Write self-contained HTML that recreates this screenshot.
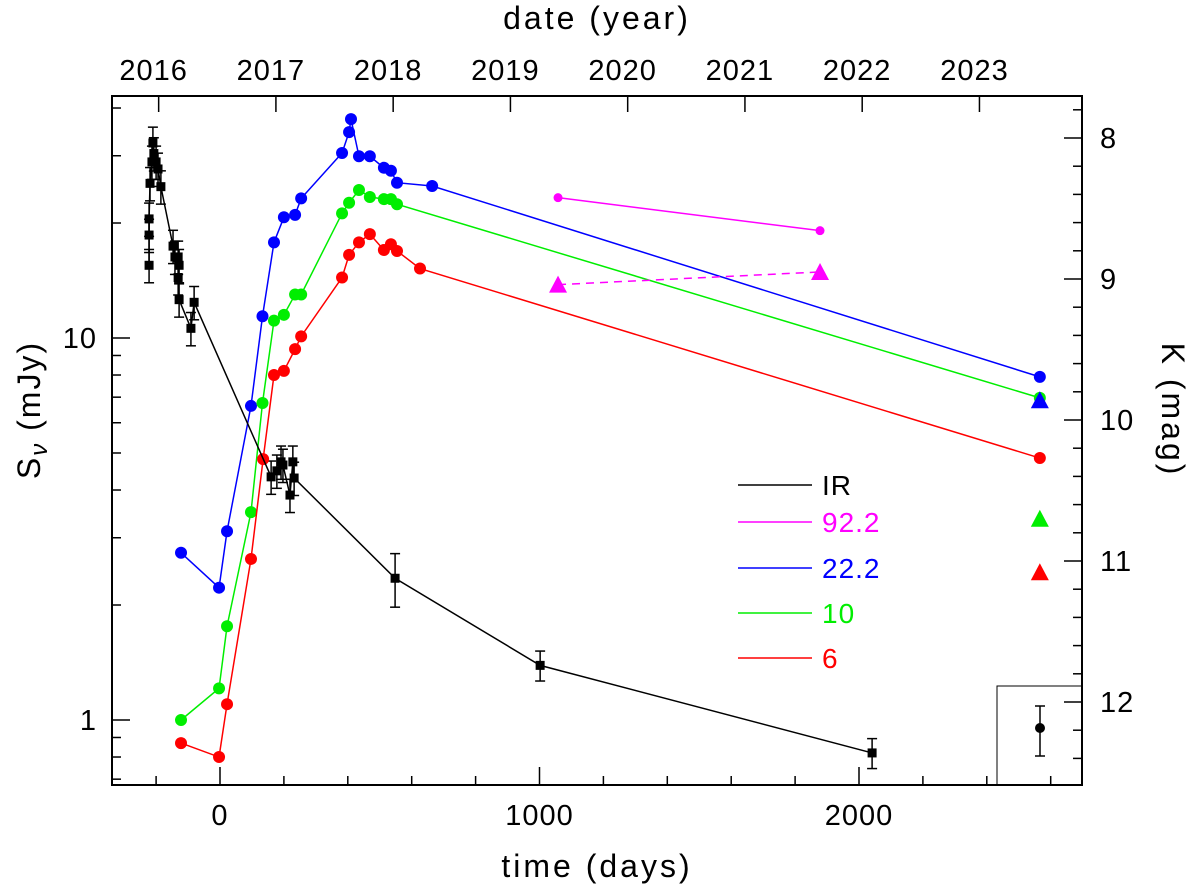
<!DOCTYPE html>
<html><head><meta charset="utf-8"><style>
body{margin:0;background:#fff}
svg{display:block;font-family:"Liberation Sans",sans-serif}
</style></head><body>
<svg id="c" width="1200" height="888"></svg>
<script>
const irDays=[-222,-222,-222,-219,-213,-210,-207,-200,-194,-185,-147,-141,-131,-128,-131,-128,-91,-81,160,178,191,197,219,228,232,548,1002,2041];
const irFlux=[15.5,18.6,20.5,25.4,28.9,32.4,30.4,28.9,27.7,24.9,17.4,16.3,16.3,15.5,14.4,12.6,10.6,12.4,4.33,4.49,4.74,4.65,3.88,4.74,4.30,2.35,1.39,0.82];
const irErr=[0.1,0.1,0.1,0.1,0.1,0.1,0.1,0.1,0.1,0.1,0.1,0.1,0.1,0.1,0.1,0.1,0.1,0.1,0.1,0.1,0.1,0.1,0.1,0.1,0.1,0.16,0.09,0.09];
const radDays=[-122,-3,22,97,133,169,200,235,254,382,404,410,435,469,513,535,554,664,2566];
const blueFlux=[2.74,2.22,3.12,6.64,11.4,17.8,20.7,21.0,23.2,30.5,34.6,37.4,29.9,29.9,27.9,27.4,25.5,25.0,7.91];
const greenDays=[-122,-3,22,97,133,169,200,235,254,382,404,435,469,513,535,554,2566];
const greenFlux=[1.00,1.21,1.76,3.50,6.76,11.1,11.5,13.0,13.0,21.2,22.6,24.4,23.4,23.1,23.1,22.4,6.97];
const redDays=[-122,-3,22,97,135,169,200,235,254,382,404,435,469,513,535,554,626,2566];
const redFlux=[0.87,0.80,1.10,2.64,4.82,8.0,8.2,9.35,10.1,14.4,16.5,17.8,18.7,17.0,17.6,16.9,15.2,4.85];
const magDays=[1058,1878];
const magFlux=[23.3,19.1];
const magTriMag=[9.04,8.95];
const triDays=[2566,2566,2566];
const triMag=[9.86,10.70,11.08];
const triColors=['#0000ff','#00ee00','#ff0000'];
const xTicks=[0,1000,2000];
const yTicks=[1,10];
const kTicks=[8,9,10,11,12];
const years=[2016,2017,2018,2019,2020,2021,2022,2023];

const L=112,R=1082,T=96,B=785;
const X=d=>220+d*0.3195;
const Y=v=>720-Math.log10(v)*382;
const K=m=>138+(m-8)*141;
const yearDay=y=>-192+(y-2016)*367;
const svg=document.getElementById('c');
const NS='http://www.w3.org/2000/svg';
function el(tag,attrs,parent){const e=document.createElementNS(NS,tag);for(const k in attrs)e.setAttribute(k,attrs[k]);(parent||svg).appendChild(e);return e;}
function txt(s,x,y,size,attrs){const t=el('text',Object.assign({x:x,y:y,'font-size':size,'text-anchor':'middle',fill:'#000','letter-spacing':1},attrs||{}));t.textContent=s;return t;}

const fr=el('rect',{x:L,y:T,width:R-L,height:B-T,fill:'none',stroke:'#000','stroke-width':2});


for(let d=-200;d<=2600;d+=200){const x=X(d);const maj=d%1000===0;el('line',{x1:x,x2:x,y1:B,y2:B-(maj?18:9),stroke:'#000','stroke-width':1.5});}
xTicks.forEach(d=>{const t=txt(String(d),X(d),825,29);});
years.forEach(y=>{const x=X(yearDay(y));el('line',{x1:x,x2:x,y1:T,y2:T+16,stroke:'#000','stroke-width':1.5});
 const t=txt(String(y),x-5,80,29);});
[0.7,0.8,0.9,1,2,3,4,5,6,7,8,9,10,20,30,40].forEach(v=>{const y=Y(v);const maj=(v===1||v===10);el('line',{x1:L,x2:L+(maj?18:9),y1:y,y2:y,stroke:'#000','stroke-width':1.5});});
yTicks.forEach(v=>{const t=txt(String(v),97,Y(v)+10,29,{'text-anchor':'end'});});
for(let m=7.8;m<=12.61;m+=0.2){const y=K(m);if(y<T||y>B)continue;const maj=Math.abs(m-Math.round(m))<0.01;el('line',{x1:R,x2:R-(maj?18:9),y1:y,y2:y,stroke:'#000','stroke-width':1.5});}
kTicks.forEach(m=>{const t=txt(String(m),1100,K(m)+10,29,{'text-anchor':'start'});});

let t=txt('time (days)',597,877,32,{'letter-spacing':3});
t=txt('date (year)',597,29,32,{'letter-spacing':3});
t=el('text',{x:0,y:0,'font-size':32,'text-anchor':'middle','letter-spacing':2,transform:'translate(40,410) rotate(-90)'});
t.innerHTML='S<tspan font-size="24" dy="7" font-style="italic">ν</tspan><tspan dy="-7"> (mJy)</tspan>';

t=el('text',{x:0,y:0,'font-size':32,'text-anchor':'middle','letter-spacing':3,transform:'translate(1162,410) rotate(90)'});t.textContent='K (mag)';


function series(days,vals,color,name,marker){
 const g=el('g',{});
 el('polyline',{points:days.map((d,i)=>X(d)+','+Y(vals[i])).join(' '),fill:'none',stroke:color,'stroke-width':1.5},g);
 days.forEach((d,i)=>{let m;
  if(marker==='sq'){m=el('rect',{x:X(d)-4.5,y:Y(vals[i])-4.5,width:9,height:9,fill:color},g);}
  else m=el('circle',{cx:X(d),cy:Y(vals[i]),r:marker==='small'?4.5:6,fill:color},g);
  });
 return g;}

const ge=el('g',{});
irDays.forEach((d,i)=>{const x=X(d),y1=Y(irFlux[i]*(1+irErr[i])),y2=Y(irFlux[i]*(1-irErr[i]));
 el('line',{x1:x,x2:x,y1:y1,y2:y2,stroke:'#000','stroke-width':1.5},ge);
 el('line',{x1:x-5,x2:x+5,y1:y1,y2:y1,stroke:'#000','stroke-width':1.5},ge);
 el('line',{x1:x-5,x2:x+5,y1:y2,y2:y2,stroke:'#000','stroke-width':1.5},ge);});

series(radDays,blueFlux,'#0000ff','series-22-2','c');
series(greenDays,greenFlux,'#00ee00','series-10','c');
series(redDays,redFlux,'#ff0000','series-6','c');
series(magDays,magFlux,'#ff00ff','series-92-2','small');
series(irDays,irFlux,'#000','series-ir','sq');

const gm=el('g',{});
el('line',{x1:X(magDays[0]),y1:K(magTriMag[0]),x2:X(magDays[1]),y2:K(magTriMag[1]),stroke:'#ff00ff','stroke-width':1.5,'stroke-dasharray':'8,6'},gm);
function tri(x,y,c,g,name){const p=el('polygon',{points:`${x-9},${y+8} ${x+9},${y+8} ${x},${y-9}`,fill:c},g);}
magDays.forEach((d,i)=>tri(X(d),K(magTriMag[i]),'#ff00ff',gm,'magenta-triangle'));
triDays.forEach((d,i)=>tri(X(d),K(triMag[i]),triColors[i],svg,'k-triangle'));

const legLabels=['IR','92.2','22.2','10','6'];
const legColors=['#000','#ff00ff','#0000ff','#00ee00','#ff0000'];
const legY=[485,522,568,613,658];
legLabels.forEach((s,i)=>{const g=el('g',{});
 el('line',{x1:738,x2:812,y1:legY[i],y2:legY[i],stroke:legColors[i],'stroke-width':1.5},g);
 const tt=el('text',{x:822,y:legY[i]+10,'font-size':28,'letter-spacing':1,fill:legColors[i]},g);tt.textContent=s;});

const gi=el('g',{});
el('rect',{x:997,y:686,width:85,height:99,fill:'none',stroke:'#000','stroke-width':1},gi);
el('line',{x1:1040,x2:1040,y1:706,y2:756,stroke:'#000','stroke-width':1.5},gi);
el('line',{x1:1035,x2:1045,y1:706,y2:706,stroke:'#000','stroke-width':1.5},gi);
el('line',{x1:1035,x2:1045,y1:756,y2:756,stroke:'#000','stroke-width':1.5},gi);
el('circle',{cx:1040,cy:728,r:5,fill:'#000'},gi);
</script>
</body></html>
